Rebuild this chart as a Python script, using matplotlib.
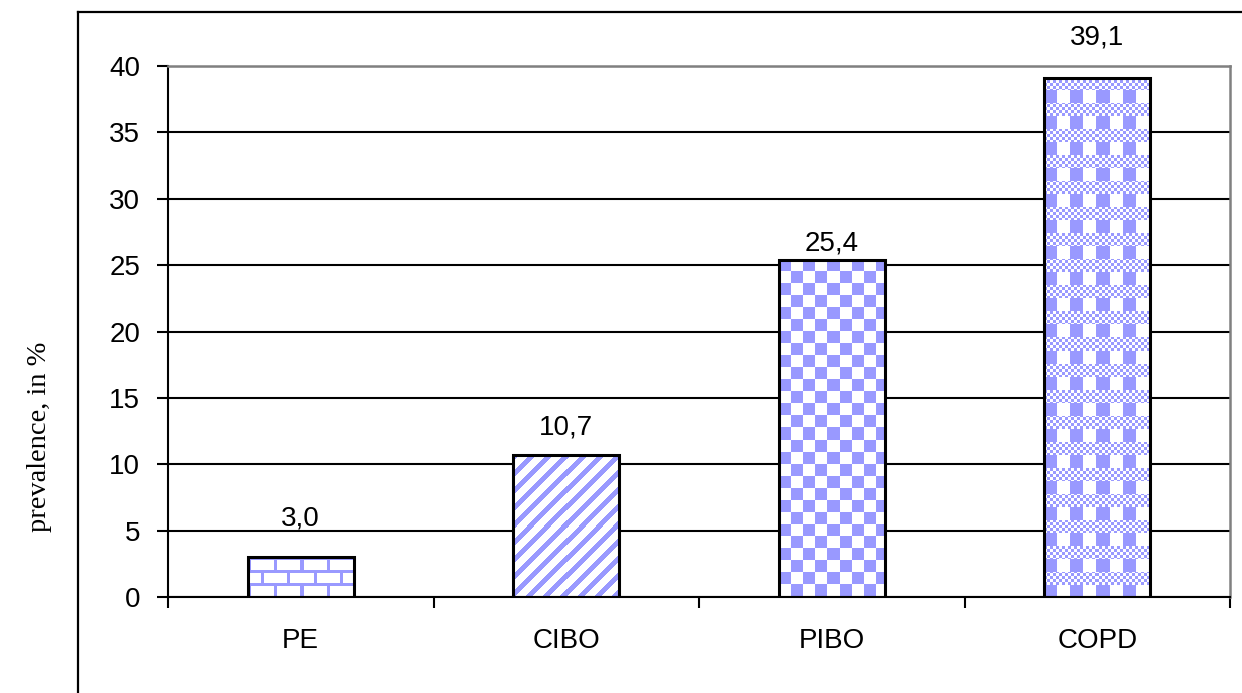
import numpy as np
import matplotlib
matplotlib.use("Agg")
import matplotlib.pyplot as plt
from matplotlib.lines import Line2D

# данные
categories = ["PE", "CIBO", "PIBO", "COPD"]
values = [3.0, 10.7, 25.4, 39.1]
value_labels = ["3,0", "10,7", "25,4", "39,1"]
y_ticks = [0, 5, 10, 15, 20, 25, 30, 35, 40]

# оформление
label_offsets_px = [39, 27, 16, 40]   # центр подписи над столбцом, в пикселях
patterns = ["bricks", "diagonal", "checker", "plaid"]
BLUE = np.array([153, 153, 255]) / 255.0
DPI = 100
FS = 20

plt.rcParams["font.family"] = ["Liberation Sans", "DejaVu Sans"]

fig = plt.figure(figsize=(12.42, 6.93), dpi=DPI)
ax = fig.add_axes([168 / 1242, 1 - 597 / 693, (1230 - 168) / 1242, (597 - 66) / 693])

x = np.arange(len(categories))
bar_w = 0.40
ax.set_xlim(-0.5, len(categories) - 0.5)
ax.set_ylim(0, 40)


def make_pattern(kind, w, h):
    xx, yy = np.meshgrid(np.arange(w), np.arange(h))
    if kind == "bricks":
        row = yy // 13
        mask = ((yy % 13) < 3) | (((xx + (row % 2) * 13) % 26) < 3)
    elif kind == "diagonal":
        mask = ((xx + yy) % 17) < 7
    elif kind == "checker":
        mask = ((xx // 12) + (yy // 12)) % 2 == 0
    else:
        band = (yy // 13) % 2
        small = ((xx // 3) + (yy // 3)) % 2 == 0
        cols = (xx // 13) % 2 == 0
        mask = np.where(band == 0, small, cols)
    img = np.ones((h, w, 3))
    img[mask] = BLUE
    return img


# столбцы с заливкой-узором
for xi, v, kind in zip(x, values, patterns):
    left, right = xi - bar_w / 2, xi + bar_w / 2
    p0 = ax.transData.transform((left, 0))
    p1 = ax.transData.transform((right, v))
    w = max(int(round(p1[0] - p0[0])), 1)
    h = max(int(round(p1[1] - p0[1])), 1)
    ax.imshow(make_pattern(kind, w, h), extent=(left, right, 0, v),
              origin="upper", interpolation="nearest", aspect="auto", zorder=2)

ax.bar(x, values, width=bar_w, facecolor="none", edgecolor="black",
       linewidth=2.2, zorder=3)

ax.set_xlim(-0.5, len(categories) - 0.5)
ax.set_ylim(0, 40)

# подписи значений
for xi, v, lab, off in zip(x, values, value_labels, label_offsets_px):
    ax.annotate(lab, (xi, v), xytext=(0, off * 72 / DPI), textcoords="offset points",
                ha="center", va="center", fontsize=FS, zorder=4)

# сетка и оси
ax.set_yticks(y_ticks)
ax.yaxis.grid(True, color="black", linewidth=1.5, zorder=1)
ax.set_axisbelow(True)
ax.tick_params(axis="y", direction="out", length=8, width=1.5, pad=12,
               labelsize=FS, color="black")

ax.set_xticks(x)
ax.set_xticklabels(categories)
ax.set_xticks(np.arange(-0.5, len(categories)), minor=True)
ax.tick_params(axis="x", which="major", length=0, pad=22, labelsize=FS)
ax.tick_params(axis="x", which="minor", direction="out", length=8, width=1.5)

for side in ["top", "right"]:
    ax.spines[side].set_color("#808080")
    ax.spines[side].set_linewidth(1.8)
for side in ["left", "bottom"]:
    ax.spines[side].set_color("black")
    ax.spines[side].set_linewidth(1.5)

ax.set_ylabel("prevalence, in %", family=["Liberation Serif", "DejaVu Serif"],
              fontsize=20.5)
ax.yaxis.set_label_coords((52 - 168) / 1062, (597 - 437) / 531)

# внешняя рамка области диаграммы
fx = 78 / 1242
fy = 1 - 12 / 693
fig.add_artist(Line2D([fx, fx], [0, fy], color="black", linewidth=1.6, transform=fig.transFigure))
fig.add_artist(Line2D([fx, 1], [fy, fy], color="black", linewidth=1.6, transform=fig.transFigure))

fig.savefig("out.png", dpi=DPI)
plt.close(fig)
